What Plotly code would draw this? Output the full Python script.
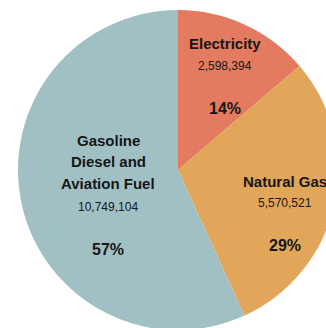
import plotly.graph_objects as go

# Energy use by source
sources = ["Electricity", "Natural Gas", "Gasoline\nDiesel and\nAviation Fuel"]
amounts = [2598394, 5570521, 10749104]
colors = ["#E47B60", "#E2A65B", "#A1C0C4"]

# Canvas geometry (pixels): pie centre and radius
W, H = 340, 332
CX, CY, R = 178, 170, 160
ML, MT = CX - R, CY - R

# Label block placement per slice: (centre x, title y, value y, percent y), in pixels
label_pos = [
    (225, 43, 66, 108),
    (285, 181, 203, 245),
    (108, 140, 207, 249),
]
LINE_STEP = 21.5

FONT = "Liberation Sans, Arial, sans-serif"
INK = "#161616"


def px(x):
    return (x - ML) / (2 * R)


def py(y):
    return 1 - (y - MT) / (2 * R)


fig = go.Figure(
    go.Pie(
        labels=[s.replace("\n", " ") for s in sources],
        values=amounts,
        marker=dict(colors=colors, line=dict(width=0)),
        sort=False,
        direction="clockwise",
        rotation=0,
        textinfo="none",
        hoverinfo="label+value+percent",
        showlegend=False,
    )
)

total = sum(amounts)
annotations = []
for name, val, (x, ty, vy, pcty) in zip(sources, amounts, label_pos):
    for i, line in enumerate(name.split("\n")):
        annotations.append(dict(
            x=px(x), y=py(ty + i * LINE_STEP), xref="paper", yref="paper", text=line,
            showarrow=False, xanchor="center", yanchor="middle",
            font=dict(family=FONT, size=15, color=INK, weight="bold"),
        ))
    annotations.append(dict(
        x=px(x), y=py(vy), xref="paper", yref="paper", text=f"{val:,}",
        showarrow=False, xanchor="center", yanchor="middle",
        font=dict(family=FONT, size=12, color=INK),
    ))
    annotations.append(dict(
        x=px(x), y=py(pcty), xref="paper", yref="paper",
        text=f"{round(100 * val / total)}%",
        showarrow=False, xanchor="center", yanchor="middle",
        font=dict(family=FONT, size=16, color=INK, weight="bold"),
    ))

fig.update_layout(
    width=W, height=H,
    margin=dict(l=ML, t=MT, r=W - (CX + R), b=H - (CY + R), pad=0),
    paper_bgcolor="white", plot_bgcolor="white",
    annotations=annotations,
)

fig.write_html(
    "out.html",
    config={"displayModeBar": False},
    post_script="document.documentElement.style.overflow='hidden';document.body.style.overflow='hidden';document.body.style.margin='0';",
)
